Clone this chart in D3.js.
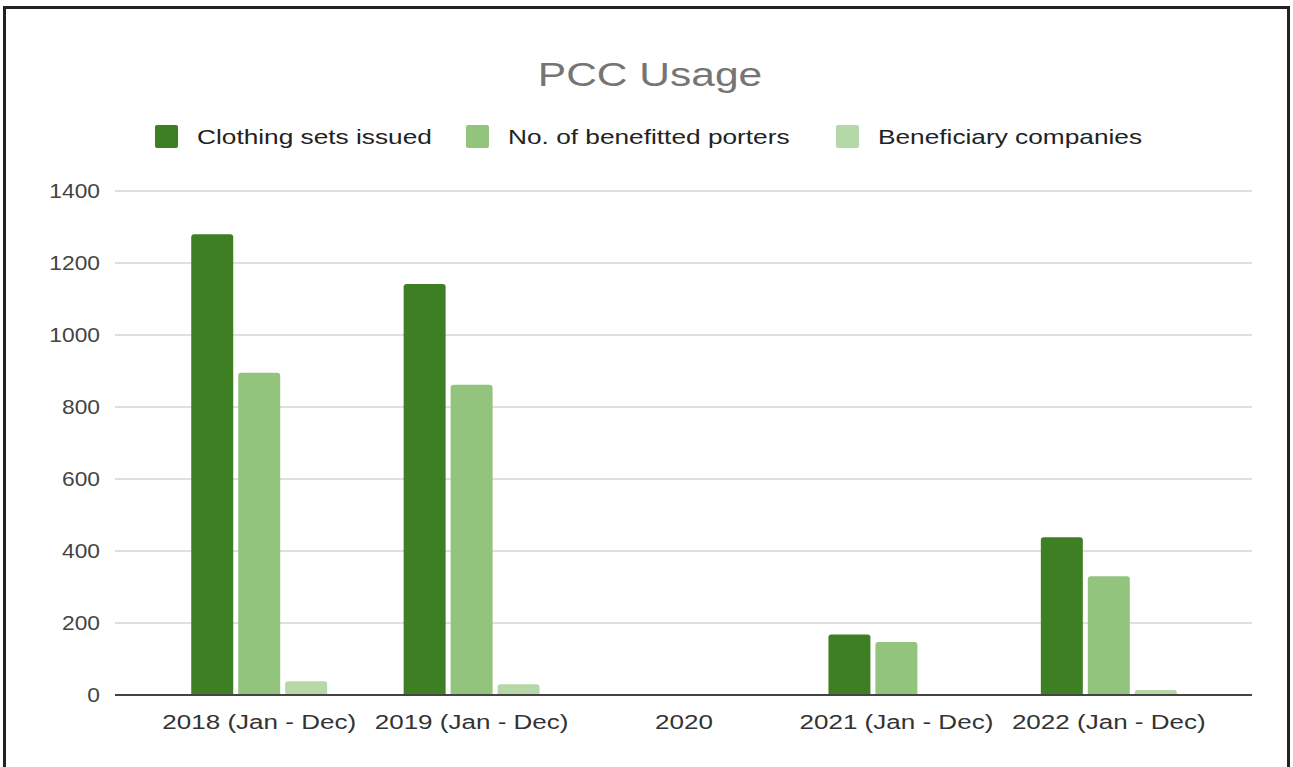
<!DOCTYPE html>
<html>
<head>
<meta charset="utf-8">
<script src="https://cdn.jsdelivr.net/npm/d3@7"></script>
<style>
  body { margin: 0; background: #fff; }
  svg { display: block; font-family: "Liberation Sans", Arial, sans-serif; }
</style>
</head>
<body>
<div id="chart"></div>
<script>
// data
var categories = ["2018 (Jan - Dec)", "2019 (Jan - Dec)", "2020", "2021 (Jan - Dec)", "2022 (Jan - Dec)"];
var seriesNames = ["Clothing sets issued", "No. of benefitted porters", "Beneficiary companies"];
var clothingSets = [1280, 1142, 0, 168, 438];
var porters = [895, 862, 0, 147, 330];
var companies = [38, 30, 0, 3, 14];
var yTicks = [0, 200, 400, 600, 800, 1000, 1200, 1400];

var colors = ["#3f7f24", "#93c47d", "#b6d7a8"];
var series = [clothingSets, porters, companies];

var width = 1293, height = 767;
var svg = d3.select("#chart").append("svg")
    .attr("width", width)
    .attr("height", height);

// outer frame (bottom edge runs off the picture)
svg.append("rect")
    .attr("x", 4.5).attr("y", 7.5)
    .attr("width", 1284).attr("height", 820)
    .attr("fill", "#fff")
    .attr("stroke", "#222")
    .attr("stroke-width", 3);

// scales
var plotLeft = 115, plotRight = 1252;
var x0 = d3.scaleBand().domain(categories).range([153, 1215]).paddingInner(0.36).paddingOuter(0.18);
var x1 = d3.scaleBand().domain(d3.range(3)).range([0, x0.bandwidth()]).paddingInner(0.106);
var y = d3.scaleLinear().domain([0, 1400]).range([695, 191]);

// gridlines
svg.append("g").selectAll("line")
    .data(yTicks.filter(function (d) { return d > 0; }))
    .enter().append("line")
    .attr("x1", plotLeft).attr("x2", plotRight)
    .attr("y1", function (d) { return y(d); })
    .attr("y2", function (d) { return y(d); })
    .attr("stroke", "#d6d6d6")
    .attr("stroke-width", 1.5);

// y labels
svg.append("g").selectAll("text")
    .data(yTicks)
    .enter().append("text")
    .attr("transform", function (d) { return "translate(100," + (y(d) + 7) + ") scale(1.14,1)"; })
    .attr("text-anchor", "end")
    .attr("fill", "#444")
    .style("font-size", "20px")
    .text(function (d) { return d; });

// bars
var groups = svg.append("g").selectAll("g")
    .data(categories)
    .enter().append("g")
    .attr("transform", function (d) { return "translate(" + x0(d) + ",0)"; });

groups.selectAll("path")
    .data(function (d, i) { return series.map(function (s, k) { return { k: k, v: s[i] }; }); })
    .enter().append("path")
    .attr("fill", function (d) { return colors[d.k]; })
    .attr("d", function (d) {
        var bx = x1(d.k), bw = x1.bandwidth();
        var top = y(d.v), bottom = y(0);
        var r = Math.min(3, (bottom - top) / 2);
        if (d.v <= 0) return "";
        return "M" + bx + "," + bottom +
            "V" + (top + r) +
            "Q" + bx + "," + top + " " + (bx + r) + "," + top +
            "H" + (bx + bw - r) +
            "Q" + (bx + bw) + "," + top + " " + (bx + bw) + "," + (top + r) +
            "V" + bottom + "Z";
    });

// baseline
svg.append("line")
    .attr("x1", plotLeft).attr("x2", plotRight)
    .attr("y1", y(0)).attr("y2", y(0))
    .attr("stroke", "#444")
    .attr("stroke-width", 2);

// x labels
svg.append("g").selectAll("text")
    .data(categories)
    .enter().append("text")
    .attr("transform", function (d) { return "translate(" + (x0(d) + x0.bandwidth() / 2) + ",729) scale(1.24,1)"; })
    .attr("text-anchor", "middle")
    .attr("fill", "#333")
    .style("font-size", "21px")
    .text(function (d) { return d; });

// title
svg.append("text")
    .attr("transform", "translate(650,86) scale(1.25,1)")
    .attr("text-anchor", "middle")
    .attr("fill", "#757575")
    .style("font-size", "34px")
    .text("PCC Usage");

// legend
var legendX = [155, 466, 836];
var legend = svg.append("g").selectAll("g")
    .data(seriesNames)
    .enter().append("g")
    .attr("transform", function (d, i) { return "translate(" + legendX[i] + ",125)"; });
legend.append("rect")
    .attr("width", 23).attr("height", 23).attr("rx", 2)
    .attr("fill", function (d, i) { return colors[i]; });
legend.append("text")
    .attr("transform", "translate(42,19) scale(1.25,1)")
    .attr("fill", "#222")
    .style("font-size", "21px")
    .text(function (d) { return d; });
</script>
</body>
</html>
